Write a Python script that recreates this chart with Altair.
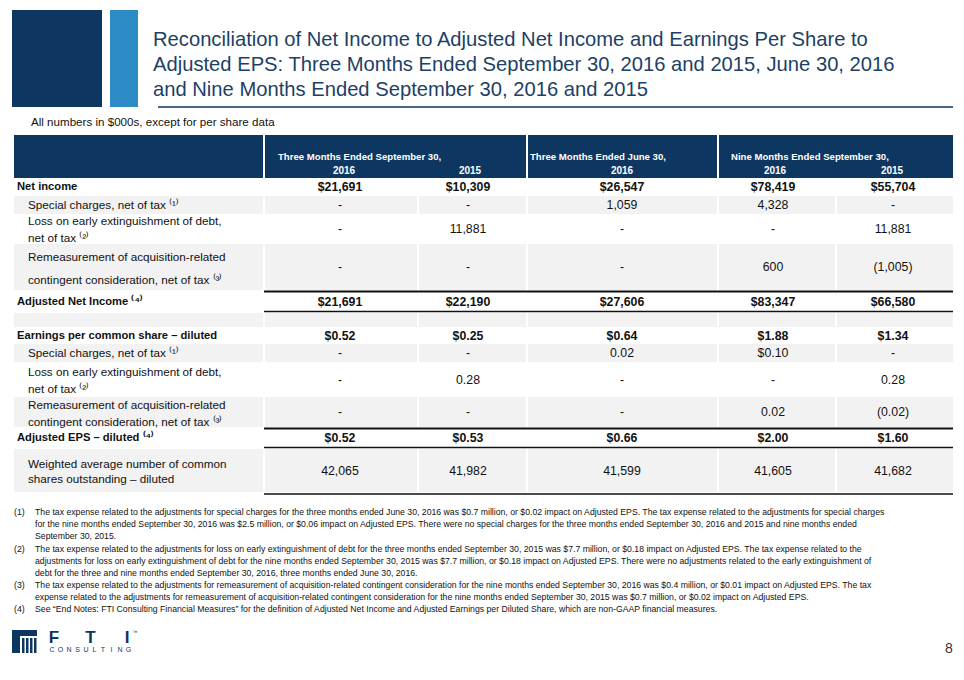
import altair as alt
import pandas as pd

# ---------------- data ----------------
title_lines = [
    "Reconciliation of Net Income to Adjusted Net Income and Earnings Per Share to",
    "Adjusted EPS: Three Months Ended September 30, 2016 and 2015, June 30, 2016",
    "and Nine Months Ended September 30, 2016 and 2015",
]
subtitle = "All numbers in $000s, except for per share data"
period_headers = ["Three Months Ended September 30,", "Three Months Ended June 30,",
                  "Nine Months Ended September 30,"]
year_headers = ["2016", "2015", "2016", "2016", "2015"]

row_labels = [
    ["Net income"],
    ["Special charges, net of tax ⁽¹⁾"],
    ["Loss on early extinguishment of debt,", "net of tax ⁽²⁾"],
    ["Remeasurement of acquisition-related", "contingent consideration, net of tax ⁽³⁾"],
    ["Adjusted Net Income ⁽⁴⁾"],
    [],
    ["Earnings per common share – diluted"],
    ["Special charges, net of tax ⁽¹⁾"],
    ["Loss on early extinguishment of debt,", "net of tax ⁽²⁾"],
    ["Remeasurement of acquisition-related", "contingent consideration, net of tax ⁽³⁾"],
    ["Adjusted EPS – diluted ⁽⁴⁾"],
    ["Weighted average number of common", "shares outstanding – diluted"],
]
row_is_total = [True, False, False, False, True, False, True, False, False, False, True, False]

q3_2016 = ["$21,691", "-", "-", "-", "$21,691", "", "$0.52", "-", "-", "-", "$0.52", "42,065"]
q3_2015 = ["$10,309", "-", "11,881", "-", "$22,190", "", "$0.25", "-", "0.28", "-", "$0.53", "41,982"]
q2_2016 = ["$26,547", "1,059", "-", "-", "$27,606", "", "$0.64", "0.02", "-", "-", "$0.66", "41,599"]
ytd_2016 = ["$78,419", "4,328", "-", "600", "$83,347", "", "$1.88", "$0.10", "-", "0.02", "$2.00", "41,605"]
ytd_2015 = ["$55,704", "-", "11,881", "(1,005)", "$66,580", "", "$1.34", "-", "0.28", "(0.02)", "$1.60", "41,682"]

footnote_marks = ["(1)", "(2)", "(3)", "(4)"]
footnotes = [
    ["The tax expense related to the adjustments for special charges for the three months ended June 30, 2016  was $0.7 million, or $0.02 impact on Adjusted EPS. The tax expense related to the adjustments for special charges",
     "for the nine months ended September 30, 2016 was $2.5 million, or $0.06 impact on Adjusted EPS.  There were no special charges for the three months ended September 30, 2016 and 2015  and nine months ended",
     "September 30, 2015."],
    ["The tax expense related to the adjustments for loss on early extinguishment of debt for the three months ended September 30, 2015 was $7.7 million, or $0.18 impact on Adjusted EPS. The tax expense related to the",
     "adjustments for loss on early extinguishment of debt for the nine months ended September 30, 2015 was $7.7 million, or $0.18 impact on Adjusted EPS. There were no adjustments related to the early extinguishment of",
     "debt  for the three and nine months ended September 30, 2016, three months ended June 30, 2016."],
    ["The tax expense related to the adjustments for remeasurement of acquisition-related contingent consideration for the nine months ended September 30, 2016 was $0.4 million, or $0.01 impact on Adjusted EPS. The tax",
     "expense related to the adjustments for remeasurement of acquisition-related contingent consideration for the nine months ended September 30, 2015 was $0.7 million, or $0.02 impact on Adjusted EPS."],
    ["See “End Notes: FTI Consulting Financial Measures” for the definition of Adjusted Net Income and Adjusted Earnings per Diluted Share, which are non-GAAP financial measures."],
]
logo_word = "FTI"
logo_sub = "CONSULTING"
page_number = "8"

# ---------------- layout / style ----------------
NAVY = "#0d3661"
LIGHT_BLUE = "#2d8bc5"
TITLE_C = "#1d3f66"
GRAY = "#f2f2f2"
INK = "#111111"
FONT = "Liberation Sans"

W, H = 948, 656
xs = alt.Scale(domain=[8, 8 + W], nice=False, zero=False)
ys = alt.Scale(domain=[8, 8 + H], nice=False, zero=False, reverse=True)

ROW_GEOM = [  # top, bottom, shaded, label line centres
    (179, 195, False, [187]),
    (196, 214, True, [205]),
    (215, 243, False, [221, 238]),
    (244, 290, True, [257, 280]),
    (293, 310, False, [302]),
    (313, 327, True, []),
    (328, 343, False, [336]),
    (344, 362, True, [353]),
    (363, 396, False, [372, 389]),
    (397, 427, True, [405, 422]),
    (430, 446, False, [438]),
    (449, 492, True, [464, 479]),
]
LABEL_CELL = (14, 263)
VALUE_CELLS = [(265, 417), (419, 526), (528, 717), (719, 835), (837, 953)]
VALUE_CX = [340, 468, 622, 773, 893]
YEAR_CX = [344, 470, 622, 775, 892]
HEADER_BLOCKS = [(14, 263), (265, 526), (528, 717), (719, 953)]
PERIOD_X = [278, 530, 731]
columns = [q3_2016, q3_2015, q2_2016, ytd_2016, ytd_2015]

# ---------------- rectangles ----------------
rects = [
    dict(x=12, x2=102, y=10, y2=107, c=NAVY),
    dict(x=110, x2=138, y=10, y2=107, c=LIGHT_BLUE),
]
for (a, b) in HEADER_BLOCKS:
    rects.append(dict(x=a, x2=b, y=135, y2=178, c=NAVY))
for (top, bot, shaded, _) in ROW_GEOM:
    if shaded:
        rects.append(dict(x=LABEL_CELL[0], x2=LABEL_CELL[1], y=top, y2=bot, c=GRAY))
        for (a, b) in VALUE_CELLS:
            rects.append(dict(x=a, x2=b, y=top, y2=bot, c=GRAY))
# logo glyph (temple columns)
rects.append(dict(x=12, x2=37, y=630, y2=636, c=NAVY))
rects.append(dict(x=12, x2=20, y=636, y2=653, c=NAVY))
for i in range(4):
    rects.append(dict(x=22 + 4 * i, x2=24.5 + 4 * i, y=638, y2=653, c=NAVY))

rect_layer = alt.Chart(pd.DataFrame(rects)).mark_rect().encode(
    x=alt.X("x:Q", scale=xs, axis=None), x2="x2:Q",
    y=alt.Y("y:Q", scale=ys, axis=None), y2="y2:Q",
    color=alt.Color("c:N", scale=None),
)

# ---------------- rules ----------------
rules = [dict(x=158, x2=953, y=107, c=NAVY, w=1.5)]
line_specs = [(291.5, 2), (311.5, 1.5), (428.5, 2), (447.5, 1.5), (494, 1.5)]
for yy, ww in line_specs:
    rules.append(dict(x=264, x2=953, y=yy, c=INK, w=ww))
rule_layer = alt.Chart(pd.DataFrame(rules)).mark_rule().encode(
    x=alt.X("x:Q", scale=xs, axis=None), x2="x2:Q",
    y=alt.Y("y:Q", scale=ys, axis=None),
    color=alt.Color("c:N", scale=None),
    strokeWidth=alt.StrokeWidth("w:Q", scale=None),
)


def text_layer(items, **kw):
    return alt.Chart(pd.DataFrame(items)).mark_text(baseline="middle", **kw).encode(
        x=alt.X("x:Q", scale=xs, axis=None),
        y=alt.Y("y:Q", scale=ys, axis=None),
        text="t:N",
        color=alt.Color("c:N", scale=None),
        size=alt.Size("s:Q", scale=None),
    )


# title + subtitle
title_items = [dict(x=153, y=40 + 25 * i, t=t, c=TITLE_C, s=20.2) for i, t in enumerate(title_lines)]
title_items.append(dict(x=31, y=123, t=subtitle, c=INK, s=11.6))

# header
hdr_bold_left = [dict(x=PERIOD_X[i], y=157, t=t, c="white", s=9.6) for i, t in enumerate(period_headers)]
hdr_bold_center = [dict(x=YEAR_CX[i], y=171, t=t, c="white", s=10) for i, t in enumerate(year_headers)]

# labels and values
lab_reg, lab_bold, val_reg, val_bold = [], [], [], []
for r, (top, bot, shaded, lys) in enumerate(ROW_GEOM):
    for j, line in enumerate(row_labels[r]):
        if row_is_total[r]:
            lab_bold.append(dict(x=17, y=lys[j], t=line, c=INK, s=11.2))
        else:
            lab_reg.append(dict(x=28, y=lys[j], t=line, c=INK, s=11.7))
    cy = (top + bot) / 2
    for k, col in enumerate(columns):
        if col[r] == "":
            continue
        item = dict(x=VALUE_CX[k], y=cy, t=col[r], c=INK, s=12.3)
        (val_bold if row_is_total[r] else val_reg).append(item)

# footnotes
fn_starts = [512, 549, 585, 609]
fn_marks, fn_lines = [], []
for i, lines in enumerate(footnotes):
    fn_marks.append(dict(x=14, y=fn_starts[i], t=footnote_marks[i], c=INK, s=8.8))
    for j, line in enumerate(lines):
        fn_lines.append(dict(x=35, y=fn_starts[i] + 12 * j, t=line, c=INK, s=8.7))

# logo text + page number
logo_big = [dict(x=54 + 36.5 * i, y=638, t=ch, c=NAVY, s=17) for i, ch in enumerate(logo_word)]
logo_small = [dict(x=52 + 8.5 * i, y=650, t=ch, c=NAVY, s=7) for i, ch in enumerate(logo_sub)]
tm = [dict(x=135, y=632, t="™", c=NAVY, s=5)]
page = [dict(x=949, y=649, t=page_number, c="#333333", s=14)]

layers = [
    rect_layer,
    rule_layer,
    text_layer(title_items, align="left", font=FONT),
    text_layer(hdr_bold_left, align="left", font=FONT, fontWeight="bold"),
    text_layer(hdr_bold_center, align="center", font=FONT, fontWeight="bold"),
    text_layer(lab_reg, align="left", font=FONT),
    text_layer(lab_bold, align="left", font=FONT, fontWeight="bold"),
    text_layer(val_reg, align="center", font=FONT),
    text_layer(val_bold, align="center", font=FONT, fontWeight="bold"),
    text_layer(fn_marks, align="left", font=FONT),
    text_layer(fn_lines, align="left", font=FONT),
    text_layer(logo_big, align="center", font=FONT, fontWeight="bold"),
    text_layer(logo_small, align="center", font=FONT),
    text_layer(tm, align="center", font=FONT),
    text_layer(page, align="center", font=FONT),
]

chart = alt.layer(*layers).properties(
    width=W, height=H, padding=0, autosize="none"
).configure_view(stroke=None)

chart.save("out.html", embed_options={"renderer": "svg", "actions": False})
